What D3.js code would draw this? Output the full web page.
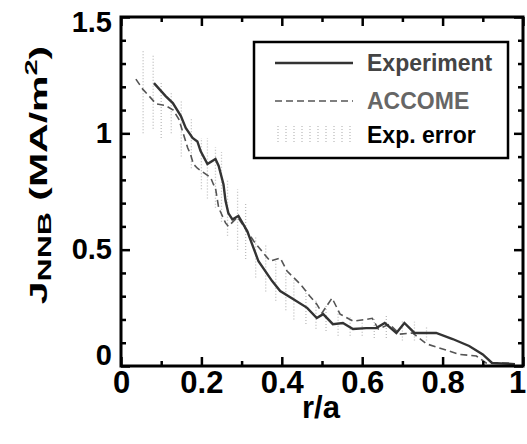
<!doctype html>
<html>
<head>
    <meta charset="UTF-8">
    <title>J NNB profile</title>
    <script src="https://cdn.jsdelivr.net/npm/d3@7"></script>
    <style>
        body { margin: 0; background: #fff; }
        svg text { font-family: "Liberation Sans", Arial, Helvetica, sans-serif; font-weight: bold; }
    </style>
</head>
<body>
<svg class="chart" width="527" height="444"></svg>
<script>
    // experiment (solid)
    var expR = [0.082, 0.111, 0.129, 0.149, 0.161, 0.178, 0.19, 0.198, 0.215, 0.235, 0.243, 0.255, 0.26, 0.267, 0.277, 0.292, 0.314, 0.342, 0.376, 0.396, 0.428, 0.463, 0.487, 0.503, 0.527, 0.552, 0.577, 0.61, 0.635, 0.656, 0.685, 0.705, 0.73, 0.784, 0.825, 0.866, 0.9, 0.923, 0.98];
    var expJ = [1.216, 1.16, 1.13, 1.074, 1.023, 0.98, 0.965, 0.924, 0.868, 0.89, 0.86, 0.78, 0.71, 0.657, 0.63, 0.645, 0.58, 0.45, 0.365, 0.322, 0.288, 0.25, 0.206, 0.223, 0.18, 0.185, 0.159, 0.163, 0.163, 0.185, 0.142, 0.185, 0.142, 0.142, 0.116, 0.086, 0.05, 0.013, 0.008];

    // ACCOME (dashed)
    var accR = [0.037, 0.054, 0.07, 0.087, 0.11, 0.13, 0.144, 0.153, 0.166, 0.173, 0.18, 0.19, 0.223, 0.23, 0.235, 0.243, 0.26, 0.267, 0.29, 0.33, 0.354, 0.371, 0.396, 0.413, 0.446, 0.47, 0.487, 0.5, 0.525, 0.545, 0.577, 0.61, 0.625, 0.64, 0.668, 0.693, 0.725, 0.76, 0.8, 0.842, 0.884, 0.908, 0.965];
    var accJ = [1.233, 1.19, 1.16, 1.127, 1.12, 1.1, 1.06, 1.01, 0.937, 0.91, 0.868, 0.85, 0.81, 0.78, 0.765, 0.68, 0.615, 0.6, 0.64, 0.537, 0.486, 0.451, 0.464, 0.408, 0.352, 0.3, 0.266, 0.228, 0.292, 0.223, 0.193, 0.2, 0.205, 0.159, 0.18, 0.137, 0.142, 0.095, 0.073, 0.05, 0.043, 0.013, 0.013];

    // experimental error band (vertical bars)
    var errR  = [0.055, 0.08, 0.10, 0.125, 0.15, 0.175, 0.20, 0.215, 0.235, 0.25, 0.265, 0.29, 0.31, 0.335, 0.36, 0.385, 0.41, 0.43, 0.46, 0.485, 0.51, 0.54, 0.57, 0.60, 0.63, 0.66, 0.70, 0.73, 0.76];
    var errLo = [1.00, 1.02, 0.98, 1.00, 0.90, 0.85, 0.76, 0.72, 0.68, 0.62, 0.56, 0.50, 0.46, 0.38, 0.32, 0.28, 0.24, 0.20, 0.18, 0.16, 0.15, 0.13, 0.13, 0.13, 0.12, 0.12, 0.11, 0.11, 0.11];
    var errHi = [1.36, 1.34, 1.22, 1.18, 1.14, 1.06, 0.98, 0.98, 0.94, 0.92, 0.80, 0.76, 0.70, 0.56, 0.52, 0.45, 0.40, 0.37, 0.33, 0.28, 0.26, 0.24, 0.21, 0.20, 0.21, 0.22, 0.20, 0.19, 0.17];

    var xMajor = [0, 0.2, 0.4, 0.6, 0.8, 1];
    var yMajor = [0, 0.5, 1, 1.5];
    var xMinor = [0.1, 0.3, 0.5, 0.7, 0.9];
    var yMinor = [0.1, 0.2, 0.3, 0.4, 0.6, 0.7, 0.8, 0.9, 1.1, 1.2, 1.3, 1.4];

    var legendNames = ['Experiment', 'ACCOME', 'Exp. error'];

    var svg = d3.select('.chart');
    // plot frame (window.top is reserved, so no plain "top")
    var pL = 121, pR = 523, pT = 17, pB = 366;

    var x = d3.scaleLinear().domain([0, 1]).range([pL, pR]);
    var y = d3.scaleLinear().domain([0, 1.5]).range([pB, pT]);

    // error bars
    svg.append('g').selectAll('line').data(errR).enter().append('line')
        .attr('x1', function (d) { return x(d); })
        .attr('x2', function (d) { return x(d); })
        .attr('y1', function (d, i) { return y(errLo[i]); })
        .attr('y2', function (d, i) { return y(errHi[i]); })
        .attr('stroke', '#bdbdbd')
        .attr('stroke-width', 1.3)
        .attr('stroke-dasharray', '1,2');

    var line = d3.line()
        .x(function (d) { return x(d[0]); })
        .y(function (d) { return y(d[1]); });

    svg.append('path')
        .datum(d3.zip(accR, accJ))
        .attr('d', line)
        .attr('fill', 'none')
        .attr('stroke', '#555')
        .attr('stroke-width', 1.6)
        .attr('stroke-dasharray', '7,4');

    svg.append('path')
        .datum(d3.zip(expR, expJ))
        .attr('d', line)
        .attr('fill', 'none')
        .attr('stroke', '#333')
        .attr('stroke-width', 2.4);

    // axes, ticks inward on all sides
    function styleAxis(g) {
        g.select('.domain').remove();
        g.selectAll('.tick line').attr('stroke', '#000').attr('stroke-width', 2.5);
    }

    svg.append('g').attr('transform', 'translate(0,' + pB + ')')
        .call(d3.axisBottom(x).tickValues(xMajor).tickSize(-9).tickPadding(5).tickFormat(d3.format('')))
        .call(styleAxis)
        .selectAll('text').attr('font-size', 31).attr('fill', '#000')
        .attr('font-family', '"Liberation Sans", Arial, sans-serif')
        .attr('dx', function (d) { return d == 1 ? -6 : 0; });
    svg.append('g').attr('transform', 'translate(0,' + pB + ')')
        .call(d3.axisBottom(x).tickValues(xMinor).tickSize(-5).tickFormat(''))
        .call(styleAxis);
    svg.append('g').attr('transform', 'translate(0,' + pT + ')')
        .call(d3.axisTop(x).tickValues(xMajor).tickSize(-9).tickFormat(''))
        .call(styleAxis);
    svg.append('g').attr('transform', 'translate(0,' + pT + ')')
        .call(d3.axisTop(x).tickValues(xMinor).tickSize(-5).tickFormat(''))
        .call(styleAxis);

    var yl = svg.append('g').attr('transform', 'translate(' + pL + ',0)')
        .call(d3.axisLeft(y).tickValues(yMajor).tickSize(-9).tickPadding(9).tickFormat(d3.format('')))
        .call(styleAxis);
    yl.selectAll('text').attr('font-size', 29).attr('fill', '#000')
        .attr('font-family', '"Liberation Sans", Arial, sans-serif')
        .attr('dy', function (d) { return d == 1.5 ? '0.5em' : (d == 0 ? '-0.05em' : '0.32em'); });
    svg.append('g').attr('transform', 'translate(' + pL + ',0)')
        .call(d3.axisLeft(y).tickValues(yMinor).tickSize(-5).tickFormat(''))
        .call(styleAxis);
    svg.append('g').attr('transform', 'translate(' + pR + ',0)')
        .call(d3.axisRight(y).tickValues(yMajor).tickSize(-9).tickFormat(''))
        .call(styleAxis);
    svg.append('g').attr('transform', 'translate(' + pR + ',0)')
        .call(d3.axisRight(y).tickValues(yMinor).tickSize(-5).tickFormat(''))
        .call(styleAxis);

    svg.append('rect')
        .attr('x', pL).attr('y', pT)
        .attr('width', pR - pL).attr('height', pB - pT)
        .attr('fill', 'none').attr('stroke', '#000').attr('stroke-width', 3);

    // axis titles
    svg.append('text')
        .attr('x', 321).attr('y', 418)
        .attr('text-anchor', 'middle')
        .attr('font-size', 31)
        .text('r/a');

    var yt = svg.append('text')
        .attr('transform', 'translate(47,175) rotate(-90) scale(1,0.6)')
        .attr('text-anchor', 'middle')
        .attr('font-size', 41);
    yt.append('tspan').text('J');
    yt.append('tspan').attr('font-size', 32).attr('dy', 7).text('NNB');
    yt.append('tspan').attr('dy', -7).text(' (MA/m');
    yt.append('tspan').attr('font-size', 29).attr('dy', -17).text('2');
    yt.append('tspan').attr('dy', 17).text(')');

    // legend
    var lg = svg.append('g');
    lg.append('rect')
        .attr('x', 254).attr('y', 42).attr('width', 254).attr('height', 116)
        .attr('fill', '#fff').attr('stroke', '#000').attr('stroke-width', 2.5);
    var rowY = [63, 101, 135];
    lg.append('line').attr('x1', 275).attr('x2', 353).attr('y1', rowY[0]).attr('y2', rowY[0])
        .attr('stroke', '#333').attr('stroke-width', 2.4);
    lg.append('line').attr('x1', 275).attr('x2', 353).attr('y1', rowY[1]).attr('y2', rowY[1])
        .attr('stroke', '#555').attr('stroke-width', 1.6).attr('stroke-dasharray', '7,4');
    lg.append('g').selectAll('line').data(d3.range(278, 353, 8)).enter().append('line')
        .attr('x1', function (d) { return d; }).attr('x2', function (d) { return d; })
        .attr('y1', rowY[2] - 9).attr('y2', rowY[2] + 9)
        .attr('stroke', '#bdbdbd').attr('stroke-width', 1.3).attr('stroke-dasharray', '1,2');
    var legendFill = ['#444', '#666', '#000'];
    lg.selectAll('text.lab').data(legendNames).enter().append('text')
        .attr('class', 'lab')
        .attr('x', 367)
        .attr('y', function (d, i) { return rowY[i] + 8; })
        .attr('font-size', 23)
        .attr('fill', function (d, i) { return legendFill[i]; })
        .text(function (d) { return d; });
</script>
</body>
</html>
